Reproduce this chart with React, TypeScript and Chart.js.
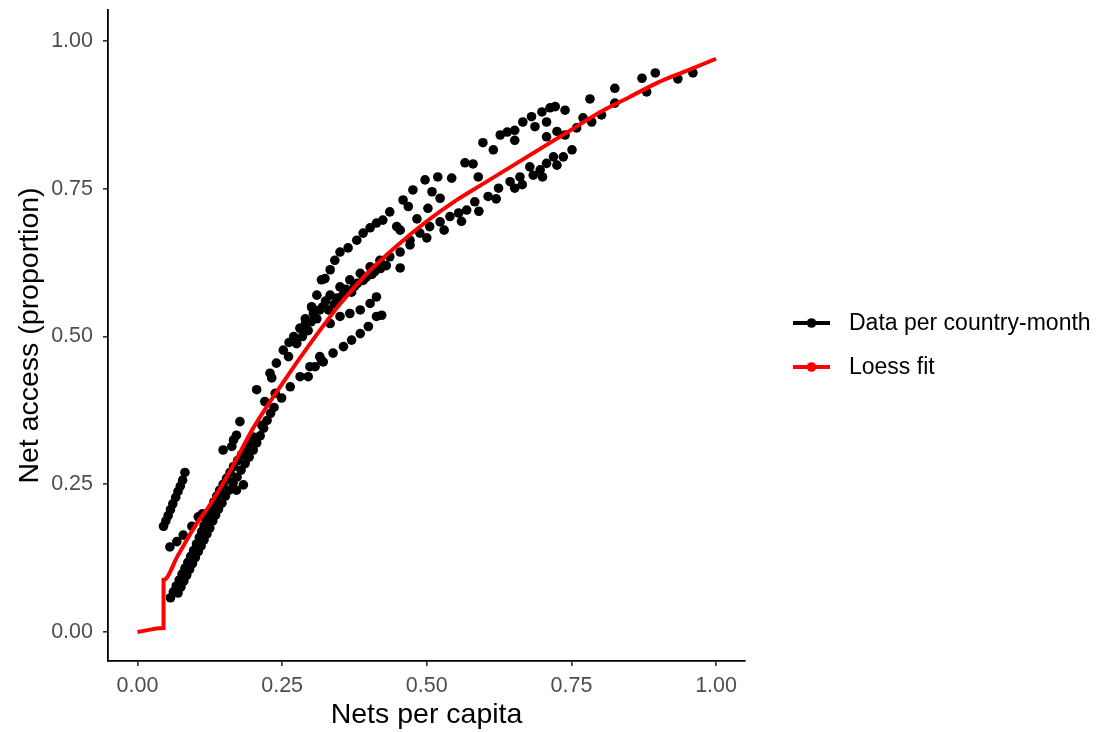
import React, { useEffect, useRef } from "react";
import { Chart, registerables } from "chart.js";

Chart.register(...registerables);

// Loess fit line
const loessX = [0, 0.045, 0.045, 0.07, 0.1, 0.125, 0.15, 0.175, 0.2, 0.25, 0.3, 0.35, 0.4, 0.45, 0.5, 0.55, 0.6, 0.65, 0.7, 0.75, 0.8, 0.85, 0.9, 0.95, 1.0];
const loessY = [0, 0.007, 0.088, 0.13, 0.18, 0.215, 0.255, 0.3, 0.345, 0.42, 0.49, 0.555, 0.61, 0.655, 0.695, 0.73, 0.76, 0.79, 0.82, 0.85, 0.88, 0.905, 0.93, 0.95, 0.97];

// Data per country-month (nets per capita, net access)
const groupA: [number, number][] = [[0.045,0.179],[0.049,0.188],[0.053,0.197],[0.057,0.207],[0.061,0.217],[0.066,0.228],[0.070,0.238],[0.074,0.247],[0.078,0.257],[0.082,0.27]];
const groupB: [number, number][] = [[0.056,0.144],[0.068,0.153],[0.079,0.164],[0.094,0.179],[0.105,0.195],[0.112,0.2]];
const groupC: [number, number][] = [[0.057,0.058],[0.062,0.068],[0.067,0.078],[0.072,0.088],[0.077,0.098],[0.082,0.108],[0.087,0.118],[0.092,0.128],[0.097,0.138],[0.102,0.149],[0.107,0.16],[0.111,0.17],[0.115,0.18],[0.119,0.19],[0.123,0.2],[0.128,0.21],[0.132,0.22],[0.137,0.23],[0.142,0.24],[0.148,0.25],[0.154,0.26],[0.16,0.27],[0.166,0.28],[0.173,0.29],[0.18,0.3],[0.187,0.31],[0.194,0.32],[0.2,0.33]];
const groupD: [number, number][] = [[0.07,0.066],[0.075,0.076],[0.08,0.086],[0.085,0.096],[0.09,0.106],[0.095,0.116],[0.1,0.126],[0.105,0.136],[0.11,0.146],[0.115,0.156],[0.12,0.166],[0.125,0.176],[0.13,0.188],[0.135,0.198],[0.14,0.208],[0.146,0.218],[0.152,0.23],[0.158,0.24],[0.165,0.252],[0.172,0.262],[0.179,0.274],[0.186,0.285],[0.193,0.296],[0.2,0.308],[0.206,0.32],[0.212,0.332],[0.218,0.345],[0.224,0.358],[0.23,0.37],[0.236,0.38]];
const groupE: [number, number][] = [[0.148,0.308],[0.163,0.314],[0.166,0.325],[0.171,0.333],[0.177,0.356],[0.165,0.254],[0.183,0.249],[0.171,0.24],[0.215,0.35],[0.206,0.41],[0.22,0.39],[0.232,0.43],[0.238,0.404],[0.249,0.396],[0.264,0.415],[0.261,0.466]];
const groupF: [number, number][] = [[0.229,0.438],[0.24,0.455],[0.252,0.477],[0.262,0.49],[0.275,0.489],[0.281,0.514],[0.29,0.53],[0.301,0.55],[0.31,0.57],[0.318,0.596],[0.333,0.613],[0.341,0.629],[0.35,0.643],[0.364,0.65],[0.379,0.663],[0.39,0.675],[0.402,0.684],[0.413,0.692],[0.424,0.697],[0.436,0.711],[0.459,0.731],[0.476,0.748],[0.497,0.765],[0.519,0.77],[0.543,0.768],[0.566,0.794],[0.58,0.792],[0.597,0.828],[0.615,0.816],[0.627,0.841],[0.639,0.846],[0.652,0.849],[0.666,0.863],[0.681,0.872],[0.699,0.88],[0.713,0.887],[0.722,0.889],[0.739,0.883]];
const groupG: [number, number][] = [[0.301,0.55],[0.304,0.539],[0.324,0.598],[0.333,0.57],[0.35,0.584],[0.367,0.596],[0.385,0.607],[0.402,0.618],[0.419,0.629],[0.436,0.635],[0.454,0.643],[0.454,0.616],[0.471,0.655],[0.448,0.686],[0.468,0.72],[0.483,0.699]];
const groupH: [number, number][] = [[0.27,0.5],[0.285,0.5],[0.29,0.52],[0.295,0.51],[0.3,0.525],[0.31,0.53],[0.315,0.545],[0.32,0.55],[0.325,0.56],[0.33,0.545],[0.34,0.555],[0.345,0.565],[0.355,0.57],[0.36,0.58],[0.37,0.575],[0.375,0.585],[0.38,0.59],[0.39,0.595],[0.395,0.6],[0.405,0.605],[0.41,0.61],[0.42,0.615],[0.43,0.62]];
const groupI: [number, number][] = [[0.454,0.68],[0.471,0.663],[0.488,0.675],[0.505,0.686],[0.523,0.694],[0.54,0.703],[0.555,0.709],[0.569,0.714],[0.583,0.728],[0.606,0.737],[0.624,0.751],[0.644,0.762],[0.652,0.751],[0.661,0.77],[0.678,0.787],[0.684,0.773],[0.696,0.782],[0.707,0.793],[0.719,0.804],[0.736,0.804],[0.751,0.816],[0.5,0.667],[0.53,0.68],[0.56,0.695],[0.59,0.712],[0.62,0.733],[0.665,0.757],[0.7,0.77],[0.725,0.79]];
const groupJ: [number, number][] = [[0.502,0.717],[0.509,0.745],[0.523,0.734],[0.589,0.77],[0.652,0.832],[0.687,0.855],[0.707,0.863],[0.707,0.838],[0.725,0.847],[0.739,0.841],[0.759,0.853],[0.77,0.87],[0.785,0.863],[0.802,0.875],[0.825,0.895]];
const groupK: [number, number][] = [[0.782,0.902],[0.825,0.92],[0.872,0.937],[0.88,0.914],[0.895,0.946],[0.934,0.936],[0.96,0.946]];
const groupL: [number, number][] = [[0.318,0.46],[0.338,0.472],[0.356,0.483],[0.37,0.494],[0.385,0.505],[0.399,0.517],[0.413,0.534],[0.422,0.536],[0.333,0.522],[0.35,0.534],[0.367,0.539],[0.385,0.545],[0.402,0.556],[0.413,0.567],[0.281,0.432],[0.295,0.432],[0.298,0.449],[0.307,0.449],[0.315,0.466],[0.321,0.457],[0.275,0.488],[0.281,0.514]];

const xTicks = [0, 0.25, 0.5, 0.75, 1.0];
const yTicks = [0, 0.25, 0.5, 0.75, 1.0];

const legendLabels = ["Data per country-month", "Loess fit"];
const legendColors = ["#000000", "#ff0000"];

const FONT = "'Liberation Sans', Arial, 'DejaVu Sans', sans-serif";

export default function App() {
  const ref = useRef<HTMLCanvasElement | null>(null);

  useEffect(() => {
    if (!ref.current) return;
    const allPoints = [
      ...groupA, ...groupB, ...groupC, ...groupD, ...groupE, ...groupF,
      ...groupG, ...groupH, ...groupI, ...groupJ, ...groupK, ...groupL,
    ].map(([x, y]) => ({ x, y }));
    const loess = loessX.map((x, i) => ({ x, y: loessY[i] }));

    const legendPlugin = {
      id: "ggLegend",
      afterDraw(chart: any) {
        const ctx = chart.ctx;
        const ys = [323, 367];
        ctx.save();
        legendLabels.forEach((lab, i) => {
          const y = ys[i];
          ctx.strokeStyle = legendColors[i];
          ctx.lineWidth = 4;
          ctx.beginPath();
          ctx.moveTo(793, y);
          ctx.lineTo(830, y);
          ctx.stroke();
          ctx.fillStyle = legendColors[i];
          ctx.beginPath();
          ctx.arc(811.5, y, 4.8, 0, Math.PI * 2);
          ctx.fill();
          ctx.fillStyle = "#000000";
          ctx.font = `23px ${FONT}`;
          ctx.textBaseline = "middle";
          ctx.textAlign = "left";
          ctx.fillText(lab, 849, y + 1);
        });
        ctx.restore();
      },
    };

    const chart = new Chart(ref.current, {
      type: "scatter",
      data: {
        datasets: [
          {
            type: "line",
            label: "Loess fit",
            data: loess,
            borderColor: "#ff0000",
            borderWidth: 4,
            pointRadius: 0,
            cubicInterpolationMode: "monotone",
            fill: false,
            order: 1,
          } as any,
          {
            label: "Data per country-month",
            data: allPoints,
            backgroundColor: "#000000",
            borderWidth: 0,
            pointRadius: 4.8,
            order: 2,
          },
        ],
      },
      options: {
        responsive: false,
        animation: false,
        devicePixelRatio: 1,
        layout: { padding: { top: 10, right: 366, left: 0, bottom: 0 } },
        plugins: {
          legend: { display: false },
          tooltip: { enabled: false },
        },
        scales: {
          x: {
            type: "linear",
            min: -0.051,
            max: 1.05,
            afterFit: (s: any) => { s.height = 71; s.paddingLeft = 0; s.paddingRight = 0; },
            afterBuildTicks: (s: any) => { s.ticks = xTicks.map((v) => ({ value: v })); },
            border: { display: true, color: "#000000", width: 1.8 },
            grid: { display: true, drawOnChartArea: false, drawTicks: true, tickLength: 5, tickColor: "#333333", lineWidth: 1.6 },
            ticks: {
              color: "#4d4d4d",
              font: { family: FONT, size: 21.5 },
              padding: 7,
              maxRotation: 0,
              callback: (v: any) => Number(v).toFixed(2),
            },
            title: {
              display: true,
              text: "Nets per capita",
              color: "#000000",
              font: { family: FONT, size: 28.5 },
              padding: { top: -2, bottom: 0 },
            },
          },
          y: {
            type: "linear",
            min: -0.049,
            max: 1.0525,
            afterFit: (s: any) => { s.width = 108; s.paddingTop = 0; s.paddingBottom = 0; },
            afterBuildTicks: (s: any) => { s.ticks = yTicks.map((v) => ({ value: v })); },
            border: { display: true, color: "#000000", width: 1.8 },
            grid: { display: true, drawOnChartArea: false, drawTicks: true, tickLength: 5, tickColor: "#333333", lineWidth: 1.6 },
            ticks: {
              color: "#4d4d4d",
              font: { family: FONT, size: 21.5 },
              padding: 10,
              callback: (v: any) => Number(v).toFixed(2),
            },
            title: {
              display: true,
              text: "Net access (proportion)",
              color: "#000000",
              font: { family: FONT, size: 28.5 },
              padding: { top: 13, bottom: 0 },
            },
          },
        },
      },
      plugins: [legendPlugin],
    });
    return () => chart.destroy();
  }, []);

  return (
    <div style={{ position: "absolute", left: 0, top: 0, width: 1111, height: 732, background: "#ffffff" }}>
      <canvas ref={ref} width={1111} height={732} style={{ display: "block" }} />
    </div>
  );
}
